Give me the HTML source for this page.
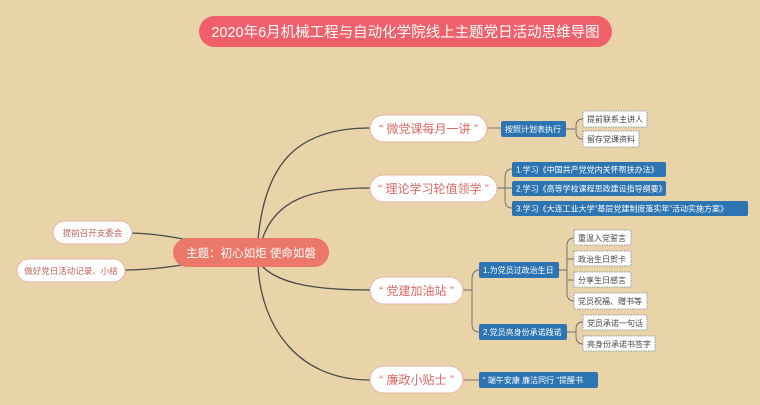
<!DOCTYPE html>
<html><head><meta charset="utf-8"><style>
body{margin:0;background:#e9d4aa;}
svg{display:block;font-family:"Liberation Sans","Noto Sans CJK SC",sans-serif;}
.b{fill:#2c74b2}
.bt{fill:#fff;font-size:8px}
.w{fill:#fff;stroke:#7a8a9a;stroke-width:.8;stroke-dasharray:1.5 1}
.wt{fill:#444;font-size:8px}
.m{fill:#fff;stroke:#e7b3a4;stroke-width:1}
.mt{fill:#d96a64;font-size:12px}
path{fill:none;stroke:#4a4a4a;stroke-width:1.3}
.s{stroke:#6a6a6a;stroke-width:.9}
</style></head><body>
<svg width="760" height="405" viewBox="0 0 760 405">
<rect width="760" height="405" fill="#e9d4aa"/>
<rect x="199" y="16" width="413" height="31" rx="15.5" fill="#ef606a"/>
<text x="405.5" y="37" text-anchor="middle" fill="#fff" font-size="14.5">2020年6月机械工程与自动化学院线上主题党日活动思维导图</text>
<path d="M258 240 C265 160 300 128 370 128"/>
<path d="M262 240 C275 200 310 188 370 188"/>
<path d="M262 266 C280 285 320 290 370 290"/>
<path d="M258 266 C262 330 300 380 370 380"/>
<path d="M210 245 C180 238 160 234 132 233"/>
<path d="M210 260 C180 266 150 270 125 270"/>
<path class="s" d="M487 128 H501"/>
<path class="s" d="M497 188 H505 M505 178 Q505 169 512 169 M505 178 V200 Q505 208 512 208 M505 188 H512"/>
<path class="s" d="M463 290 H472 M479 270 Q472 270 472 280 V324 Q472 332 479 332"/>
<path class="s" d="M463 380 H479"/>
<path class="s" d="M566 129 H575 M583 119 Q576 119 576 126 V132 Q576 139 583 139"/>
<path class="s" d="M559 270 H567 M574 238 Q567 238 567 246 V293 Q567 301 574 301 M567 259 H574 M567 280 H574"/>
<path class="s" d="M567 332 H576 M583 322 Q576 322 576 329 V336 Q576 344 583 344"/>
<rect x="173" y="238" width="156" height="29" rx="14.5" fill="#ec786a"/>
<text x="251" y="257" text-anchor="middle" fill="#fff" font-size="11.5">主题：初心如炬 使命如磐</text>
<rect class="m" x="53" y="221" width="79" height="23" rx="11.5"/>
<text x="92.5" y="236" text-anchor="middle" fill="#c2655f" font-size="8.5">提前召开支委会</text>
<rect class="m" x="17" y="259" width="108" height="23" rx="11.5"/>
<text x="71" y="274" text-anchor="middle" fill="#c2655f" font-size="8.5">做好党日活动记录、小结</text>
<rect class="m" x="370" y="115" width="117" height="27" rx="13.5"/>
<text class="mt" x="428.5" y="133" text-anchor="middle">“ 微党课每月一讲 ”</text>
<rect class="m" x="370" y="175" width="127" height="27" rx="13.5"/>
<text class="mt" x="433.5" y="193" text-anchor="middle">“ 理论学习轮值领学 ”</text>
<rect class="m" x="370" y="277" width="93" height="27" rx="13.5"/>
<text class="mt" x="416.5" y="295" text-anchor="middle">“ 党建加油站 ”</text>
<rect class="m" x="370" y="366" width="93" height="27" rx="13.5"/>
<text class="mt" x="416.5" y="384" text-anchor="middle">“ 廉政小贴士 ”</text>
<rect class="b" x="501" y="121" width="65" height="16" rx="2"/><text class="bt" x="505" y="132">按照计划表执行</text>
<rect class="b" x="512" y="162" width="154" height="15" rx="2"/><text class="bt" x="516" y="172.5">1.学习《中国共产党党内关怀帮扶办法》</text>
<rect class="b" x="512" y="181" width="154" height="15" rx="2"/><text class="bt" x="516" y="191.5">2.学习《高等学校课程思政建设指导纲要》</text>
<rect class="b" x="512" y="201" width="236" height="15" rx="2"/><text class="bt" x="516" y="211.5">3.学习《大连工业大学“基层党建制度落实年”活动实施方案》</text>
<rect class="b" x="479" y="262" width="80" height="16" rx="2"/><text class="bt" x="483" y="273">1.为党员过政治生日</text>
<rect class="b" x="479" y="324" width="88" height="16" rx="2"/><text class="bt" x="483" y="335">2.党员亮身份承诺践诺</text>
<rect class="b" x="479" y="372" width="119" height="16" rx="2"/><text class="bt" x="483" y="383">“ 端午安康  廉洁同行 ”提醒书</text>
<rect class="w" x="583" y="111" width="64" height="16"/><text class="wt" x="587" y="122">提前联系主讲人</text>
<rect class="w" x="583" y="131" width="56" height="16"/><text class="wt" x="587" y="142">留存党课资料</text>
<rect class="w" x="574" y="230" width="57" height="15"/><text class="wt" x="578" y="241">重温入党誓言</text>
<rect class="w" x="574" y="251" width="57" height="15"/><text class="wt" x="578" y="262">政治生日贺卡</text>
<rect class="w" x="574" y="272" width="57" height="15"/><text class="wt" x="578" y="283">分享生日感言</text>
<rect class="w" x="574" y="293" width="73" height="16"/><text class="wt" x="578" y="304">党员祝福、赠书等</text>
<rect class="w" x="583" y="315" width="64" height="15"/><text class="wt" x="587" y="326">党员承诺一句话</text>
<rect class="w" x="583" y="336" width="72" height="15"/><text class="wt" x="587" y="347">亮身份承诺书签字</text>
</svg>
</body></html>
